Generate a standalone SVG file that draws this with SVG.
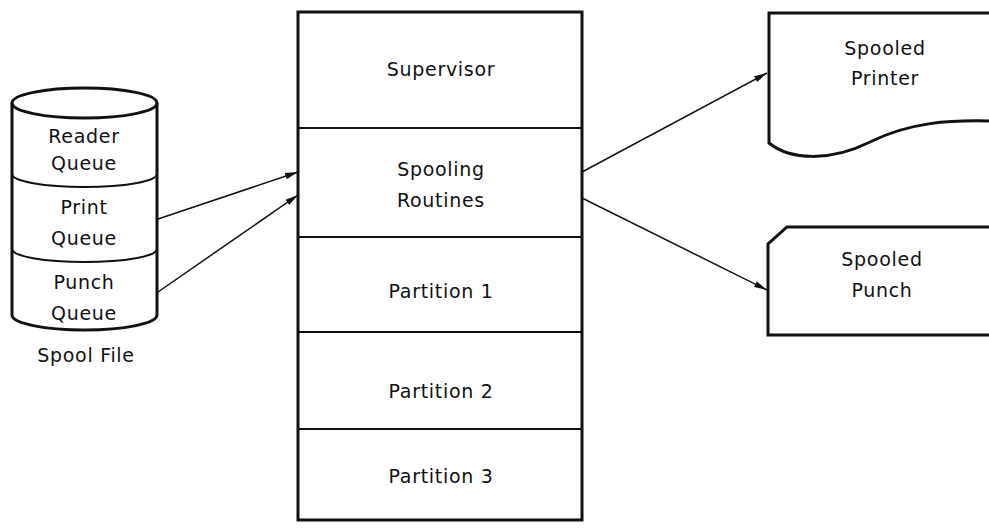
<svg xmlns="http://www.w3.org/2000/svg" width="989" height="529" viewBox="0 0 989 529">
<style>
.t{font-family:"DejaVu Sans","Liberation Sans",sans-serif;font-size:19px;fill:#111;text-anchor:middle;letter-spacing:0.7px}
.b{fill:none;stroke:#111;stroke-width:3}
.d{fill:none;stroke:#111;stroke-width:2}
.c{fill:none;stroke:#111;stroke-width:1.5}
</style>
<defs>
<marker id="ah" markerUnits="userSpaceOnUse" markerWidth="14" markerHeight="8" refX="13" refY="4" orient="auto">
<path d="M0,0.8 L13,4 L0,7.2 Z" fill="#111"/>
</marker>
</defs>
<rect width="989" height="529" fill="#fff"/>
<g id="spool-file">
<path class="b" d="M 12 103 L 12 315 A 72.5 15 0 0 0 157 315 L 157 103 A 72.5 15 0 0 0 12 103 Z"/>
<path class="b" d="M 12 103 A 72.5 15 0 0 0 157 103"/>
<path class="d" d="M 12 174 A 72.5 13 0 0 0 157 174"/>
<path class="d" d="M 12 249 A 72.5 13 0 0 0 157 249"/>
<text class="t" x="84" y="143">Reader</text>
<text class="t" x="84" y="170">Queue</text>
<text class="t" x="84" y="214">Print</text>
<text class="t" x="84" y="245">Queue</text>
<text class="t" x="84" y="289">Punch</text>
<text class="t" x="84" y="320">Queue</text>
<text class="t" x="86" y="362">Spool File</text>
</g>
<g id="memory">
<rect class="b" x="298" y="12" width="284" height="508"/>
<line class="d" x1="298" y1="128" x2="582" y2="128"/>
<line class="d" x1="298" y1="237" x2="582" y2="237"/>
<line class="d" x1="298" y1="332" x2="582" y2="332"/>
<line class="d" x1="298" y1="429" x2="582" y2="429"/>
<text class="t" x="441" y="76">Supervisor</text>
<text class="t" x="441" y="176">Spooling</text>
<text class="t" x="441" y="207">Routines</text>
<text class="t" x="441" y="298">Partition 1</text>
<text class="t" x="441" y="398">Partition 2</text>
<text class="t" x="441" y="483">Partition 3</text>
</g>
<g id="spooled-printer">
<path class="b" d="M 991 13 L 769 13 L 769 143 C 790 160 830 162 870 142 C 910 122 950 120 991 121"/>
<text class="t" x="885" y="55">Spooled</text>
<text class="t" x="885" y="85">Printer</text>
</g>
<g id="spooled-punch">
<path class="b" d="M 991 227 L 787 227 L 768 244 L 768 335 L 991 335"/>
<text class="t" x="882" y="266">Spooled</text>
<text class="t" x="882" y="297">Punch</text>
</g>
<g id="connectors">
<line class="c" x1="158" y1="219" x2="298" y2="172" marker-end="url(#ah)"/>
<line class="c" x1="158" y1="292" x2="298" y2="195" marker-end="url(#ah)"/>
<line class="c" x1="582" y1="172" x2="767" y2="73" marker-end="url(#ah)"/>
<line class="c" x1="582" y1="198" x2="767" y2="290" marker-end="url(#ah)"/>
</g>
</svg>
